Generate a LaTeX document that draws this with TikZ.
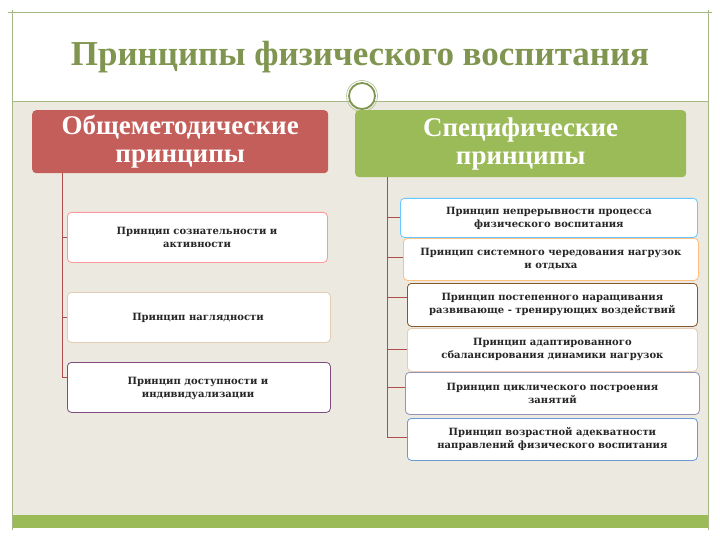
\documentclass[tikz,border=0pt]{standalone}
\usepackage{fontspec}
\setmainfont{Liberation Serif}
\newfontfamily\bxfont{DejaVu Serif}
\begin{document}
\begin{tikzpicture}[x=1pt,y=-1pt,
  hdr/.style={rounded corners=4pt,text=white,font=\bfseries\fontsize{27}{28}\selectfont,align=center,anchor=north west,inner sep=0pt},
  bxf/.style={font=\bxfont\bfseries\fontsize{10}{13}\selectfont,text=black!85,align=center},
  bx/.style={draw,rounded corners=4pt,fill=white,line width=0.8pt,anchor=north west,inner sep=0pt,bxf},
  ln/.style={draw=red!55!black!70,line width=0.7pt}]
\definecolor{olive}{RGB}{128,150,80}
\definecolor{beige}{RGB}{236,233,224}
\definecolor{redh}{RGB}{196,94,90}
\definecolor{greenh}{RGB}{155,187,89}
\useasboundingbox (0,0) rectangle (720,540);
\fill[white] (0,0) rectangle (720,540);
\fill[beige] (12,101) rectangle (708,515);
\fill[greenh] (12,515) rectangle (708,528);
\draw[olive!70,line width=0.8pt] (8,12) -- (712,12) (12,10) -- (12,530) (708,10) -- (708,530);
\draw[olive!70,line width=0.8pt] (12,101) -- (708,101);
\node[text=olive,font=\bfseries\fontsize{35}{37}\selectfont] (title) at (360,57) {Принципы физического воспитания};
\node[circle,draw=olive,line width=1.8pt,fill=white,minimum size=26pt,inner sep=0pt] (ring) at (362,96) {};
\draw[olive!60,line width=0.6pt] (ring.center) circle (15.5pt);
\node[hdr,fill=redh,minimum width=296pt,minimum height=63pt] (L) at (32,110) {Общеметодические\\принципы};
\node[hdr,fill=greenh,minimum width=331pt,minimum height=67pt] (R) at (355,110) {Специфические\\принципы};
% left boxes
\node[bx,draw=red!40,minimum width=260pt,minimum height=50pt] (l1) at (67,212) {};
\node[bxf] at (197,237) {Принцип сознательности и\\активности};
\node[bx,draw=brown!40,minimum width=263pt,minimum height=50pt] (l2) at (67,292) {};
\node[bxf] at (198,318) {Принцип наглядности};
\node[bx,draw=violet!40!gray,minimum width=263pt,minimum height=50pt] (l3) at (67,362) {};
\node[bxf] at (198,388) {Принцип доступности и\\индивидуализации};
\coordinate (lt) at (62,173);
\draw[ln] (lt) -- (62,377);
\draw[ln] (62,237) -- (l1.west|-62,237);
\draw[ln] (62,317) -- (l2.west|-62,317);
\draw[ln] (62,377) -- (l3.west|-62,377);
% right boxes
\node[bx,draw=blue!35!cyan!60,minimum width=297pt,minimum height=39pt] (r1) at (400,198) {Принцип непрерывности процесса\\физического воспитания};
\node[bx,draw=orange!50,minimum width=295pt,minimum height=42pt] (r2) at (403,238) {Принцип системного чередования нагрузок\\и отдыха};
\node[bx,draw=brown!70!black,minimum width=290pt,minimum height=43pt] (r3) at (407,283) {Принцип постепенного наращивания\\развивающе - тренирующих воздействий};
\node[bx,draw=brown!40,minimum width=290pt,minimum height=43pt] (r4) at (407,328) {Принцип адаптированного\\сбалансирования динамики нагрузок};
\node[bx,draw=blue!20!gray!70,minimum width=294pt,minimum height=42pt] (r5) at (405,372) {Принцип циклического построения\\занятий};
\node[bx,draw=cyan!50!blue!60,minimum width=290pt,minimum height=42pt] (r6) at (407,418) {Принцип возрастной адекватности\\направлений физического воспитания};
\draw[ln] (387,177) -- (387,437);
\foreach \n/\y in {r1/217,r2/257,r3/297,r4/349,r5/387,r6/437}
  \draw[ln] (387,\y) -- (\n.west|-387,\y);
\end{tikzpicture}
\end{document}
